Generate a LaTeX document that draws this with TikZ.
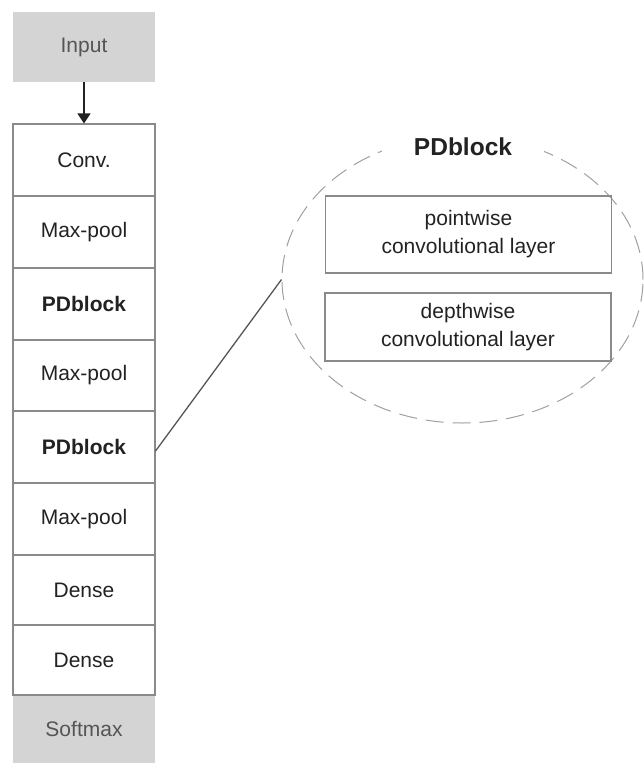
\documentclass[tikz,border=0pt]{standalone}
\usepackage{fontspec}
\setmainfont{Liberation Sans}
\usetikzlibrary{shapes.geometric,arrows.meta}
\definecolor{boxgray}{HTML}{D4D4D4}
\definecolor{linegray}{HTML}{8A8A8A}
\definecolor{txtdark}{HTML}{222222}
\definecolor{txtgray}{HTML}{555555}
\definecolor{dashgray}{HTML}{A0A0A0}
\begin{document}
\begin{tikzpicture}[x=1pt,y=-1pt,
  layer/.style={draw=linegray,line width=1.1pt,fill=white,minimum width=142pt,inner sep=0pt,font=\fontsize{21}{24}\selectfont,text=txtdark},
  endbox/.style={fill=boxgray,minimum width=142pt,inner sep=0pt,font=\fontsize{21}{24}\selectfont,text=txtgray},
  inner/.style={draw=linegray,line width=1.1pt,minimum width=286pt,inner sep=0pt,align=center,font=\fontsize{21}{28}\selectfont,text=txtdark}]
\useasboundingbox (0,0) rectangle (643,763);
\node[endbox,minimum height=70pt] (in) at (84,47) {Input};
\node[endbox,minimum height=68pt] (sm) at (84,729) {Softmax};
\node[layer,minimum height=72pt] (l1) at (84,160) {Conv.};
\node[layer,minimum height=72pt] (l2) at (84,232) {Max-pool};
\node[layer,minimum height=72pt] (l3) at (84,304) {\textbf{PDblock}};
\node[layer,minimum height=71pt] (l4) at (84,375.5) {Max-pool};
\node[layer,minimum height=72pt] (l5) at (84,447) {\textbf{PDblock}};
\node[layer,minimum height=72pt] (l6) at (84,519) {Max-pool};
\node[layer,minimum height=70pt] (l7) at (84,590) {Dense};
\node[layer,minimum height=70pt] (l8) at (84,660) {Dense};
\draw[line width=1.3pt,txtdark,-{Triangle[length=10pt,width=13pt]}] (in.south) -- (l1.north);
\node[ellipse,draw=dashgray,line width=1pt,dash pattern=on 18pt off 9pt,minimum width=361pt,minimum height=287pt,inner sep=0pt] (ell) at (462.5,279.5) {};
\node[fill=white,inner xsep=32pt,inner ysep=6pt,font=\bfseries\fontsize{24.5}{28}\selectfont,text=txtdark] (title) at (463,147) {PDblock};
\node[inner,minimum height=77pt] (pw) at (468.5,234.5) {pointwise\\convolutional layer};
\node[inner,minimum height=68pt] (dw) at (468,327) {depthwise\\convolutional layer};
\draw[line width=1.3pt,txtgray] ([yshift=-4pt]l5.east) -- (ell.west);
\end{tikzpicture}
\end{document}
